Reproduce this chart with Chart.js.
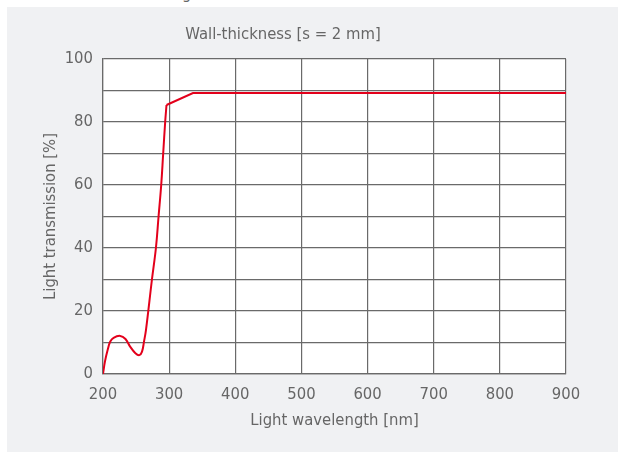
<!DOCTYPE html>
<html>
<head>
<meta charset="utf-8">
<script src="https://cdn.jsdelivr.net/npm/chart.js@4/dist/chart.umd.min.js"></script>
<style>
  html, body { margin: 0; padding: 0; background: #fff; overflow: hidden; }
  #panel { position: absolute; left: 7px; top: 7px; width: 611px; height: 445px; background: #f0f1f3; }
  #cut { position: absolute; left: 182px; top: -14px; font: 16px 'DejaVu Sans Condensed', sans-serif; color: #666; line-height: 16px; }
  #wrap { position: absolute; left: 0; top: 0; width: 618px; height: 452px; }
</style>
</head>
<body>
<div id="panel"></div>
<div id="cut">g</div>
<div id="wrap"><canvas id="chart" width="618" height="452"></canvas></div>
<script>
// curve: UV edge (smooth part) and the plateau (straight part)
const curveWavelength = [200, 203, 207, 211, 216, 226, 234, 241, 249, 255, 259, 262, 265, 274, 280, 284, 288, 291, 294, 296];
const curveTransmission = [0, 4, 7.6, 10.3, 11.5, 12.1, 11.1, 8.7, 6.6, 6.0, 7.1, 10.3, 14, 30, 40, 50, 60, 70, 80, 85.4];
const plateauWavelength = [296, 336, 900];
const plateauTransmission = [85.4, 89.2, 89.2];

const fontFamily = "'DejaVu Sans Condensed', 'Liberation Sans Narrow', sans-serif";
const fontSize = 16.5;
const textColor = '#666666';
const gridColor = '#6a6a6a';
const red = '#e3001b';

function toPoints(xs, ys) {
  return xs.map((x, i) => ({ x: x, y: ys[i] }));
}

// white plot area on the grey panel
const plotBackground = {
  id: 'plotBackground',
  beforeDraw(chart) {
    const a = chart.chartArea;
    const ctx = chart.ctx;
    ctx.save();
    ctx.fillStyle = '#ffffff';
    ctx.fillRect(a.left, a.top, a.right - a.left, a.bottom - a.top);
    ctx.restore();
  }
};

const ctx = document.getElementById('chart').getContext('2d');
new Chart(ctx, {
  type: 'line',
  data: {
    datasets: [{
      data: toPoints(curveWavelength, curveTransmission),
      borderColor: red,
      borderWidth: 2,
      pointRadius: 0,
      fill: false,
      tension: 0.4
    }, {
      data: toPoints(plateauWavelength, plateauTransmission),
      borderColor: red,
      borderWidth: 2,
      pointRadius: 0,
      fill: false,
      tension: 0
    }]
  },
  options: {
    responsive: false,
    animation: false,
    layout: { padding: { top: 0, right: 52, bottom: 0, left: 0 } },
    plugins: {
      legend: { display: false },
      tooltip: { enabled: false },
      title: {
        display: true,
        text: 'Wall-thickness [s = 2 mm]',
        color: textColor,
        font: { family: fontFamily, size: fontSize, weight: 'normal', lineHeight: 1.2 },
        padding: { top: 25.2, bottom: 14 }
      }
    },
    scales: {
      x: {
        type: 'linear',
        min: 200,
        max: 900,
        ticks: { stepSize: 100, color: textColor, padding: 11, maxRotation: 0,
          font: { family: fontFamily, size: fontSize } },
        grid: { color: gridColor, lineWidth: 1.2, drawTicks: false },
        border: { color: gridColor, width: 1.2 },
        title: {
          display: true,
          text: 'Light wavelength [nm]',
          color: textColor,
          font: { family: fontFamily, size: fontSize, lineHeight: 1.2 },
          padding: { top: 0, bottom: 21 }
        },
        afterFit(scale) { scale.height = 78; }
      },
      y: {
        min: 0,
        max: 100,
        ticks: {
          stepSize: 10,
          color: textColor,
          padding: 10,
          font: { family: fontFamily, size: fontSize },
          callback: v => (v % 20 === 0 ? v : '')
        },
        grid: { color: gridColor, lineWidth: 1.2, drawTicks: false },
        border: { color: gridColor, width: 1.2 },
        title: {
          display: true,
          text: 'Light transmission [%]',
          color: textColor,
          font: { family: fontFamily, size: fontSize, lineHeight: 1.2 },
          padding: { top: 41, bottom: 0 }
        },
        afterFit(scale) { scale.width = 103; }
      }
    }
  },
  plugins: [plotBackground]
});
</script>
</body>
</html>
